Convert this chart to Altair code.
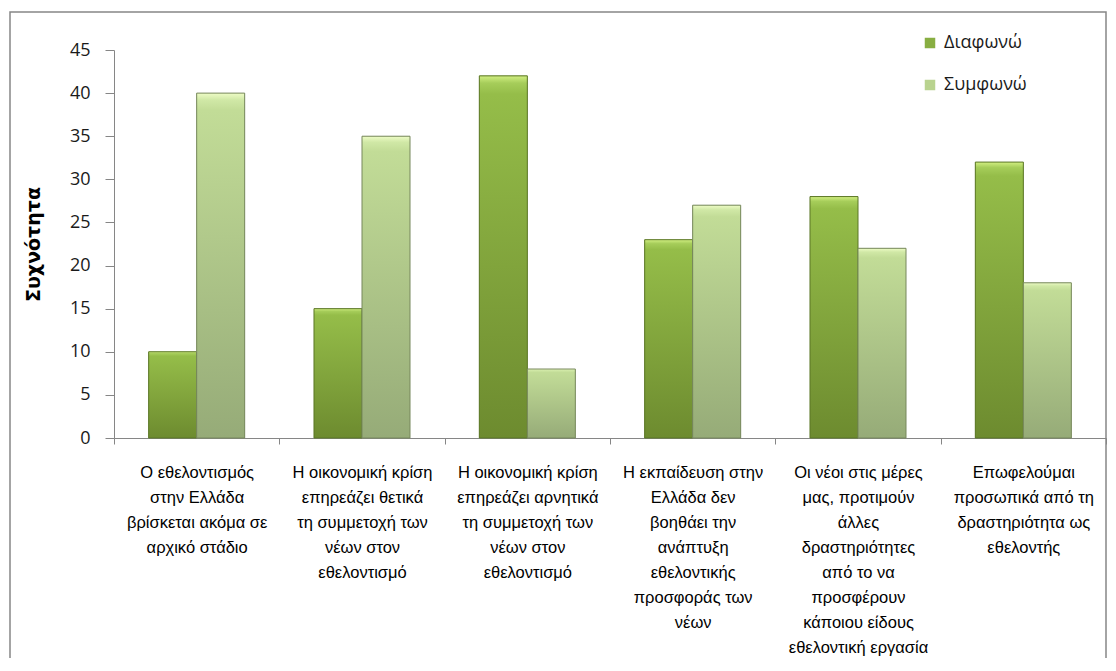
import altair as alt
import pandas as pd

categories = [
    "Ο εθελοντισμός|στην Ελλάδα|βρίσκεται ακόμα σε|αρχικό στάδιο",
    "Η οικονομική κρίση|επηρεάζει θετικά|τη συμμετοχή των|νέων στον|εθελοντισμό",
    "Η οικονομική κρίση|επηρεάζει αρνητικά|τη συμμετοχή των|νέων στον|εθελοντισμό",
    "Η εκπαίδευση στην|Ελλάδα δεν|βοηθάει την|ανάπτυξη|εθελοντικής|προσφοράς των|νέων",
    "Οι νέοι στις μέρες|μας, προτιμούν|άλλες|δραστηριότητες|από το να|προσφέρουν|κάποιου είδους|εθελοντική εργασία",
    "Επωφελούμαι|προσωπικά από τη|δραστηριότητα ως|εθελοντής",
]
series = ["Διαφωνώ", "Συμφωνώ"]
diafono = [10, 15, 42, 23, 28, 32]
symfono = [40, 35, 8, 27, 22, 18]

rows = []
for c, a, b in zip(categories, diafono, symfono):
    rows.append({"cat": c, "series": series[0], "value": a})
    rows.append({"cat": c, "series": series[1], "value": b})
df = pd.DataFrame(rows)

grad_dark = {
    "gradient": "linear", "x1": 0, "y1": 0, "x2": 0, "y2": 1,
    "stops": [
        {"offset": 0, "color": "#d2ef82"},
        {"offset": 0.02, "color": "#a6cd5a"},
        {"offset": 0.05, "color": "#95bd49"},
        {"offset": 1, "color": "#6d8b2f"},
    ],
}
grad_light = {
    "gradient": "linear", "x1": 0, "y1": 0, "x2": 0, "y2": 1,
    "stops": [
        {"offset": 0, "color": "#eefcc6"},
        {"offset": 0.02, "color": "#d0e8a6"},
        {"offset": 0.05, "color": "#c2dc97"},
        {"offset": 1, "color": "#96ab78"},
    ],
}

x_enc = alt.X(
    "cat:N", sort=categories, title=None,
    scale=alt.Scale(paddingInner=0, paddingOuter=0),
    axis=alt.Axis(
        labelAngle=0, labelExpr="split(datum.label, '|')",
        labelFont="Liberation Sans", labelFontSize=16.5, labelLineHeight=25,
        labelColor="#000000", labelBaseline="top", labelPadding=20,
        labelOverlap=False, labelLimit=0, tickBand="extent",
        domainColor="#868686", tickColor="#868686", tickSize=6,
    ),
)
y_enc = alt.Y(
    "value:Q", title="Συχνότητα",
    scale=alt.Scale(domain=[0, 45], nice=False),
    axis=alt.Axis(
        values=list(range(0, 50, 5)), grid=False,
        labelFont="Open Sans", labelFontSize=18, labelColor="#1a1a1a",
        labelPadding=15, tickSize=9, domainColor="#868686", tickColor="#868686",
        titleFont="DejaVu Sans", titleFontSize=19, titleFontWeight="bold",
        titleColor="#000000", titleAngle=270, titleX=-81, titleY=194,
        titleAlign="center", titleBaseline="middle",
    ),
)
xo_enc = alt.XOffset(
    "series:N", sort=series,
    scale=alt.Scale(paddingOuter=0.722, paddingInner=0.0),
)

base = alt.Chart(df).mark_bar().encode(
    x=x_enc, y=y_enc, xOffset=xo_enc,
    color=alt.Color(
        "series:N", sort=series,
        scale=alt.Scale(domain=series, range=["#88ae42", "#b9d38f"]),
        legend=alt.Legend(
            title=None, orient="none", legendX=807, legendY=-16,
            symbolType="square", symbolSize=110, symbolStrokeWidth=0,
            labelFont="Open Sans", labelFontSize=18, labelColor="#1a1a1a",
            rowPadding=24, labelOffset=5, padding=0,
        ),
    ),
)

over1 = alt.Chart(df).transform_filter(
    alt.datum.series == series[0]
).mark_bar(fill=grad_dark, stroke="#5b7626", strokeWidth=1).encode(
    x=alt.X("cat:N", sort=categories), y="value:Q", xOffset=alt.XOffset("series:N", sort=series)
)
over2 = alt.Chart(df).transform_filter(
    alt.datum.series == series[1]
).mark_bar(fill=grad_light, stroke="#76875c", strokeWidth=1).encode(
    x=alt.X("cat:N", sort=categories), y="value:Q", xOffset=alt.XOffset("series:N", sort=series)
)

border = alt.Chart(pd.DataFrame({"a": [0]})).mark_rect(
    fill=None, stroke="#868686", strokeWidth=1.5, clip=False
).encode(
    x=alt.value(-104), x2=alt.value(992), y=alt.value(-38), y2=alt.value(640)
)

chart = alt.layer(border, base, over1, over2).properties(
    width=992, height=388,
    padding={"left": 106, "top": 42, "right": 2, "bottom": 220},
    autosize=alt.AutoSizeParams(type="none"),
    background="#ffffff",
).configure_view(stroke=None)

chart.save("out.html", embed_options={"renderer": "svg", "actions": False})
